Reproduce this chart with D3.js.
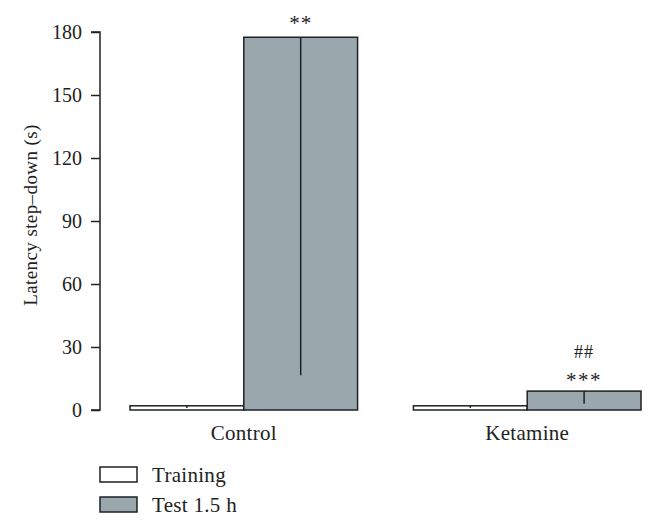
<!DOCTYPE html>
<html><head><meta charset="utf-8">
<script src="https://cdn.jsdelivr.net/npm/d3@7"></script>
<style>body{margin:0;background:#fff}svg{display:block}text{font-family:"Liberation Serif","DejaVu Serif",serif;fill:#222}</style>
</head><body><svg id="c" width="656" height="526"></svg>
<script>
const groups = ["Control", "Ketamine"];
const seriesNames = ["Training", "Test 1.5 h"];
const trainingMeans = [2, 2];
const trainingErr = [1, 1];
const testMeans = [177.5, 9];
const testErr = [161, 6];
const testMarksTop = ["**", "##"];
const testMarksBottom = ["", "***"];
const yTicks = [0, 30, 60, 90, 120, 150, 180];
const colors = ["#ffffff", "#9aa8ae"];

const svg = d3.select("#c");
const y = d3.scaleLinear().domain([0, 180]).range([410, 32]);
const x0 = d3.scaleBand().domain(groups).range([130, 641]).paddingInner(0.197).paddingOuter(0);
const x1 = d3.scaleBand().domain(seriesNames).range([0, x0.bandwidth()]);

const yAxis = svg.append("g").attr("transform", "translate(100,0)")
  .call(d3.axisLeft(y).tickValues(yTicks).tickSize(9).tickPadding(9));
yAxis.select(".domain").attr("stroke", "#222").attr("stroke-width", 1.5).attr("d", `M-9,${y(180)}H0V${y(0)}H-9`);
yAxis.selectAll(".tick line").attr("stroke", "#222").attr("stroke-width", 1.5);
yAxis.selectAll(".tick text").style("font-size", "20px").style("font-family", "'Liberation Serif',serif").attr("fill", "#222");

svg.append("text").attr("transform", `translate(30,${(y(0)+y(180))/2 - 6}) rotate(-90)`)
  .attr("text-anchor", "middle").attr("dy", "0.35em").style("font-size", "19px").style("letter-spacing", "0.4px")
  .text("Latency step–down (s)");

const data = groups.map((g, i) => [
  {g, s: seriesNames[0], v: trainingMeans[i], e: trainingErr[i], c: colors[0]},
  {g, s: seriesNames[1], v: testMeans[i], e: testErr[i], c: colors[1], top: testMarksTop[i], bot: testMarksBottom[i]}
]).flat();

svg.selectAll("rect.bar").data(data).join("rect").attr("class", "bar")
  .attr("x", d => x0(d.g) + x1(d.s)).attr("width", x1.bandwidth())
  .attr("y", d => y(d.v)).attr("height", d => y(0) - y(d.v))
  .attr("fill", d => d.c).attr("stroke", "#1c2226").attr("stroke-width", 1.5);

svg.selectAll("line.err").data(data).join("line").attr("class", "err")
  .attr("x1", d => x0(d.g) + x1(d.s) + x1.bandwidth()/2).attr("x2", d => x0(d.g) + x1(d.s) + x1.bandwidth()/2)
  .attr("y1", d => y(d.v)).attr("y2", d => y(d.v - d.e))
  .attr("stroke", "#1c2226").attr("stroke-width", 1.5);

const tests = data.filter(d => d.s === seriesNames[1]);
svg.selectAll("text.bot").data(tests.filter(d => d.bot)).join("text").attr("class", "bot")
  .attr("x", d => x0(d.g) + x1(d.s) + x1.bandwidth()/2).attr("y", d => y(d.v) - 4)
  .attr("text-anchor", "middle").style("font-size", "21px").style("letter-spacing", "1.5px").attr("fill", "#555").text(d => d.bot);
svg.selectAll("text.top").data(tests).join("text").attr("class", "top")
  .attr("x", d => x0(d.g) + x1(d.s) + x1.bandwidth()/2).attr("y", d => y(d.v) - (d.bot ? 33 : 7))
  .attr("text-anchor", "middle").style("font-size", d => d.bot ? "18px" : "21px").style("letter-spacing", "1px").attr("fill", "#444").text(d => d.top);

svg.selectAll("text.cat").data(groups).join("text").attr("class", "cat")
  .attr("x", d => x0(d) + x0.bandwidth()/2).attr("y", 440)
  .attr("text-anchor", "middle").style("font-size", "21px").style("letter-spacing", "0.3px").text(d => d);

const leg = svg.selectAll("g.leg").data(seriesNames).join("g").attr("class", "leg")
  .attr("transform", (d, i) => `translate(100,${467 + i*30})`);
leg.append("rect").attr("width", 37).attr("height", 15).attr("fill", (d, i) => colors[i])
  .attr("stroke", "#1c2226").attr("stroke-width", 1.5);
leg.append("text").attr("x", 52).attr("y", 15).style("font-size", "21px").style("letter-spacing", "0.3px").text(d => d);
</script></body></html>
